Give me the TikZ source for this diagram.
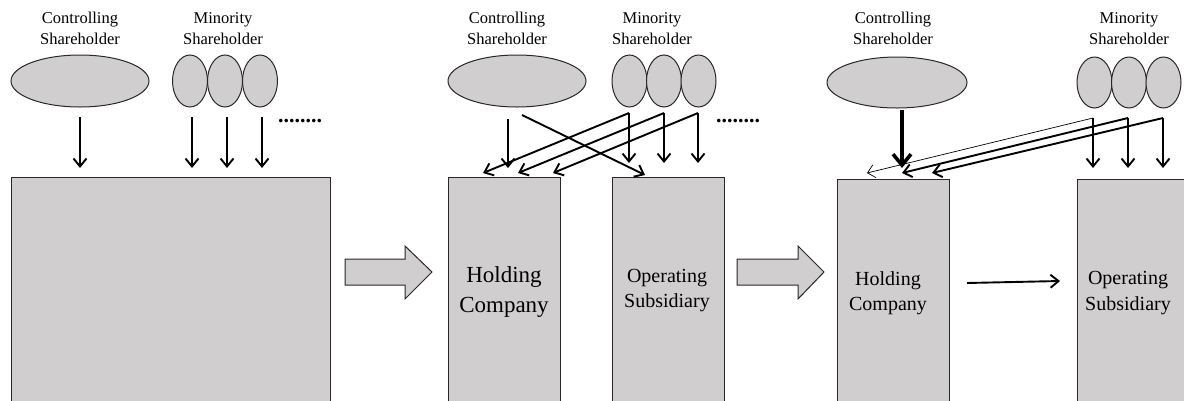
\documentclass[tikz,border=0pt]{standalone}
\usepackage{fontspec}
\setmainfont{Liberation Serif}
\usetikzlibrary{shapes.geometric,arrows.meta}
\definecolor{boxgray}{RGB}{208,206,207}
\definecolor{edge}{RGB}{40,40,40}
\tikzset{
  shape box/.style={draw=edge, line width=1pt, fill=boxgray},
  bigov/.style={shape box, ellipse, inner sep=0pt, minimum width=138pt, minimum height=52pt},
  smallov/.style={shape box, ellipse, inner sep=0pt, minimum width=35pt, minimum height=52pt},
  company/.style={shape box, rectangle, inner sep=0pt, anchor=north west},
  head/.style={align=center, font=\fontsize{16.5}{21}\selectfont, inner sep=0pt},
  lbl/.style={align=center, font=\fontsize{20}{25.5}\selectfont, inner sep=0pt},
  lblbig/.style={align=center, font=\fontsize{23}{30}\selectfont, inner sep=0pt},
  arr/.style={line width=1.9pt, -{Straight Barb[length=8pt,width=13pt,line width=1.9pt]}},
  thickarr/.style={line width=3.6pt, -{Straight Barb[length=11pt,width=18pt,line width=3.6pt]}},
  thinarr/.style={line width=0.7pt, -{Straight Barb[length=7pt,width=13pt,line width=0.7pt]}},
  blockarr/.style={draw=edge, line width=1pt, fill=boxgray, line join=miter},
  dots/.style={inner sep=0pt, font=\fontsize{22}{22}\selectfont\bfseries}
}
\begin{document}
\begin{tikzpicture}[x=1pt,y=-1pt]
\useasboundingbox (0,0) rectangle (1184,400);
% ---------------- Panel 1 ----------------
\node[head] (t1c) at (80,28.5) {Controlling\\Shareholder};
\node[head] (t1m) at (223,28.5) {Minority\\Shareholder};
\node[bigov] (c1) at (80,81) {};
\node[smallov] (m11) at (190,81) {};
\node[smallov] (m12) at (225,81) {};
\node[smallov] (m13) at (260,81) {};
\node[company, minimum width=319pt, minimum height=240pt] (big) at (11,177) {};
\coordinate (c1s) at (80,117);   \coordinate (c1e) at (80,168);
\coordinate (m11s) at (192,117); \coordinate (m11e) at (192,168);
\coordinate (m12s) at (227,117); \coordinate (m12e) at (227,168);
\coordinate (m13s) at (262,117); \coordinate (m13e) at (262,168);
\draw[arr] (c1s) -- (c1e);
\draw[arr] (m11s) -- (m11e);
\draw[arr] (m12s) -- (m12e);
\draw[arr] (m13s) -- (m13e);
\node[dots] (d1) at (300,121) {........};
% block arrow 1
\draw[blockarr] (345,259) -- (405,259) -- (405,246) -- (432,272) -- (405,299) -- (405,285) -- (345,285) -- cycle;
% ---------------- Panel 2 ----------------
\node[head] (t2c) at (507,28.5) {Controlling\\Shareholder};
\node[head] (t2m) at (652,28.5) {Minority\\Shareholder};
\node[bigov] (c2) at (517,81) {};
\node[smallov] (m21) at (629.5,81) {};
\node[smallov] (m22) at (664,81) {};
\node[smallov] (m23) at (698.5,81) {};
\node[company, minimum width=112pt, minimum height=240pt] (hc2) at (448,177) {};
\node[company, minimum width=112pt, minimum height=240pt] (os2) at (612,177) {};
\node[lblbig] (hc2t) at (504,292) {Holding\\Company};
\node[lbl] (os2t) at (667,290.5) {Operating\\Subsidiary};
\coordinate (c2s) at (508,119);  \coordinate (c2e) at (508,168);
\coordinate (c2ds) at (522,115); \coordinate (c2de) at (645,175);
\coordinate (m21s) at (629,113); \coordinate (m21e) at (629,163);
\coordinate (m22s) at (664,113); \coordinate (m22e) at (664,163);
\coordinate (m23s) at (698,113); \coordinate (m23e) at (698,163);
\coordinate (m21d) at (483,173);
\coordinate (m22d) at (518,173);
\coordinate (m23d) at (553,173);
\draw[arr] (c2s) -- (c2e);
\draw[arr] (c2ds) -- (c2de);
\draw[arr] (m21s) -- (m21e);
\draw[arr] (m22s) -- (m22e);
\draw[arr] (m23s) -- (m23e);
\draw[arr] (m21s) -- (m21d);
\draw[arr] (m22s) -- (m22d);
\draw[arr] (m23s) -- (m23d);
\node[dots] (d2) at (738,121) {........};
% block arrow 2
\draw[blockarr] (737,259) -- (798,259) -- (798,246) -- (824,272) -- (798,299) -- (798,285) -- (737,285) -- cycle;
% ---------------- Panel 3 ----------------
\node[head] (t3c) at (893,28.5) {Controlling\\Shareholder};
\node[head] (t3m) at (1129,28.5) {Minority\\Shareholder};
\node[bigov, minimum width=140pt, minimum height=51pt] (c3) at (897,82.5) {};
\node[smallov, minimum height=51pt] (m31) at (1094.5,82.5) {};
\node[smallov, minimum height=51pt] (m32) at (1129,82.5) {};
\node[smallov, minimum height=51pt] (m33) at (1163.5,82.5) {};
\node[company, minimum width=112pt, minimum height=240pt] (hc3) at (837,179) {};
\node[company, minimum width=130pt, minimum height=240pt] (os3) at (1077,179) {};
\node[lbl] (hc3t) at (888,293) {Holding\\Company};
\node[lbl] (os3t) at (1128,293) {Operating\\Subsidiary};
\coordinate (c3s) at (902,110);  \coordinate (c3e) at (902,168);
\coordinate (m31s) at (1093,118); \coordinate (m31e) at (1093,168);
\coordinate (m32s) at (1128,118); \coordinate (m32e) at (1128,168);
\coordinate (m33s) at (1163,118); \coordinate (m33e) at (1163,168);
\coordinate (m31d) at (867,173);
\coordinate (m32d) at (902,173);
\coordinate (m33d) at (932,173);
\draw[thickarr] (c3s) -- (c3e);
\draw[arr] (m31s) -- (m31e);
\draw[arr] (m32s) -- (m32e);
\draw[arr] (m33s) -- (m33e);
\draw[thinarr] (m31s) -- (m31d);
\draw[arr] (m32s) -- (m32d);
\draw[arr] (m33s) -- (m33d);
\coordinate (hs) at (967,283); \coordinate (he) at (1060,281);
\draw[arr] (hs) -- (he);
\end{tikzpicture}
\end{document}
